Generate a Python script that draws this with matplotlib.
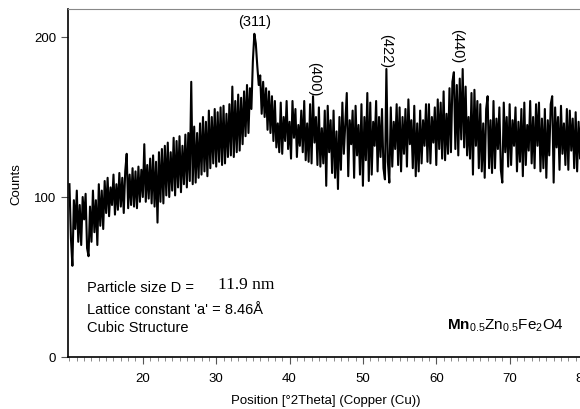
import numpy as np
import matplotlib
matplotlib.use("Agg")
import matplotlib.pyplot as plt

plt.rcParams['font.family'] = ['Liberation Sans', 'DejaVu Sans']
plt.rcParams['mathtext.fontset'] = 'custom'
plt.rcParams['mathtext.rm'] = 'Liberation Sans'
plt.rcParams['mathtext.bf'] = 'Liberation Sans:bold'

# 2theta grid, 0.2 deg steps from 10 to 80
two_theta_start = 10.0
two_theta_step = 0.2

# counts, one row per degree
counts = [
    108, 74, 57, 98, 80,
    104, 72, 95, 70, 100,
    86, 102, 68, 63, 94,
    72, 104, 78, 98, 70,
    108, 82, 104, 80, 110,
    90, 112, 88, 106, 95,
    114, 89, 108, 92, 115,
    94, 112, 90, 116, 127,
    93, 114, 95, 118, 94,
    116, 93, 119, 97, 117,
    100, 133, 97, 120, 99,
    124, 96, 126, 94, 122,
    84, 128, 97, 130, 96,
    132, 101, 134, 100, 128,
    104, 137, 101, 135, 106,
    138, 103, 132, 108, 139,
    106, 140, 110, 172, 108,
    144, 109, 140, 112, 146,
    114, 150, 116, 147, 113,
    154, 118, 150, 121, 155,
    119, 153, 122, 156, 120,
    157, 121, 152, 125, 158,
    126, 169, 125, 160, 128,
    164, 129, 162, 133, 166,
    138, 170, 140, 168, 155,
    185, 202, 196, 182, 170,
    176, 152, 172, 150, 168,
    142, 166, 140, 163, 135,
    160, 131, 146, 128, 159,
    127, 150, 135, 160, 130,
    147, 124, 160, 137, 155,
    125, 145, 132, 154, 128,
    160, 123, 146, 122, 158,
    121, 163, 134, 150, 120,
    156, 119, 143, 121, 154,
    107, 157, 128, 148, 115,
    154, 112, 141, 105, 150,
    117, 159, 127, 146, 165,
    113, 148, 133, 154, 112,
    157, 126, 145, 114, 158,
    107, 150, 123, 165, 110,
    159, 114, 147, 132, 160,
    116, 150, 125, 155, 118,
    111, 180, 122, 109, 156,
    119, 147, 130, 158, 120,
    156, 116, 150, 127, 155,
    119, 161, 133, 148, 118,
    157, 113, 146, 116, 154,
    121, 148, 132, 158, 122,
    158, 121, 150, 134, 156,
    120, 161, 130, 159, 124,
    166, 123, 152, 127, 168,
    128, 172, 178, 130, 170,
    126, 174, 136, 180, 131,
    169, 126, 150, 124, 165,
    114, 167, 132, 160, 118,
    158, 116, 146, 112, 155,
    163, 118, 148, 115, 160,
    118, 149, 130, 156, 117,
    109, 159, 128, 150, 119,
    158, 120, 148, 132, 156,
    116, 147, 122, 155, 113,
    159, 120, 145, 129, 160,
    121, 150, 118, 158, 132,
    159, 116, 149, 118, 155,
    112, 148, 126, 158, 163,
    109, 156, 131, 150, 117,
    157, 127, 146, 120, 155,
    117, 154, 129, 149, 118,
    153, 116, 147, 124, 155,
    130,
]

peak_labels = ['(311)', '(400)', '(422)', '(440)']
peak_x = [35.3, 43.4, 53.2, 62.8]
peak_y = [210, 174, 192, 195]
peak_rot = [0, -90, -90, -90]

two_theta = two_theta_start + two_theta_step * np.arange(len(counts))

fig = plt.figure(figsize=(5.8, 4.1), dpi=100)
ax = fig.add_axes([68 / 580, 52 / 410, 515 / 580, 348 / 410])

ax.plot(two_theta, counts, color='black', linewidth=1.5)

ax.set_xlim(9.8, 80)
ax.set_ylim(0, 217.5)
ax.set_xticks([20, 30, 40, 50, 60, 70, 80])
ax.set_xticks(np.arange(10, 81, 1), minor=True)
ax.set_yticks([0, 100, 200])
ax.tick_params(axis='both', which='major', labelsize=9.5, length=5, color='#555555', direction='out')
ax.tick_params(axis='x', which='major', pad=6)
ax.tick_params(axis='x', which='minor', length=3, color='#777777', direction='out')

for side in ['top', 'right']:
    ax.spines[side].set_color('#888888')
for side in ['left', 'bottom']:
    ax.spines[side].set_linewidth(1.2)

ax.set_xlabel('Position [°2Theta] (Copper (Cu))', fontsize=9.5, labelpad=7)
ax.set_ylabel('Counts', fontsize=9.5, labelpad=8)

for lab, px, py, rot in zip(peak_labels, peak_x, peak_y, peak_rot):
    ax.text(px, py, lab, rotation=rot, ha='center', va='center', fontsize=10.5)

ax.text(12.4, 43.5, 'Particle size D = ', fontsize=10.5, va='center')
ax.text(30.2, 45.5, '11.9 nm', fontsize=12.5, va='center', family='Liberation Serif')
ax.text(12.4, 30, "Lattice constant 'a' = 8.46Å", fontsize=10.5, va='center')
ax.text(12.4, 18.5, 'Cubic Structure', fontsize=10.5, va='center')
ax.text(61.4, 20.5, r'$\mathbf{Mn}_{0.5}$Zn$_{0.5}$Fe$_2$O4', fontsize=11, va='center')

fig.savefig('out.png', dpi=100)
